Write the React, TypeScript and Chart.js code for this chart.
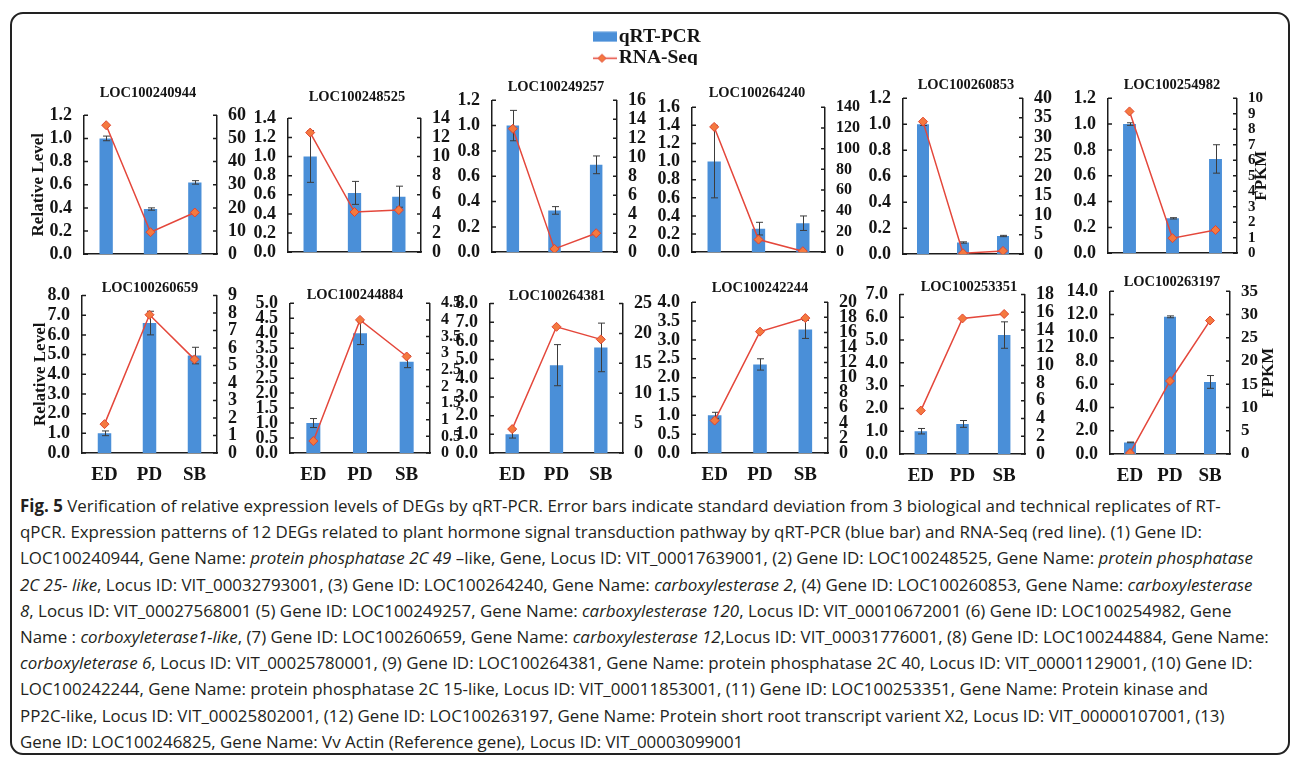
import React, { useEffect, useRef } from 'react';
import { Chart, registerables } from 'chart.js';

Chart.register(...registerables);

// ---------------- DATA ----------------
const STAGES = ['ED', 'PD', 'SB'];
const GENES = [
  'LOC100240944', 'LOC100248525', 'LOC100249257', 'LOC100264240', 'LOC100260853', 'LOC100254982',
  'LOC100260659', 'LOC100244884', 'LOC100264381', 'LOC100242244', 'LOC100253351', 'LOC100263197',
];
// qRT-PCR relative level (bars, left axis)
const QPCR = [
  [1.0, 0.39, 0.62], [1.0, 0.62, 0.58], [1.0, 0.33, 0.69], [1.0, 0.26, 0.32], [1.0, 0.09, 0.14], [1.0, 0.27, 0.73],
  [1.0, 6.6, 4.95], [1.0, 4.0, 3.05], [1.0, 4.7, 5.65], [1.0, 2.35, 3.28], [1.0, 1.32, 5.22], [1.0, 11.8, 6.2],
];
// standard deviation of qRT-PCR (error bars)
const QPCR_SD = [
  [0.02, 0.01, 0.015], [0.27, 0.12, 0.11], [0.12, 0.03, 0.07], [0.4, 0.07, 0.08], [0.01, 0.005, 0.005], [0.01, 0.005, 0.11],
  [0.12, 0.6, 0.42], [0.15, 0.38, 0.2], [0.2, 1.1, 1.3], [0.08, 0.15, 0.24], [0.12, 0.15, 0.58], [0.03, 0.08, 0.55],
];
// RNA-Seq FPKM (line, right axis)
const FPKM = [
  [55.7, 9.5, 18], [12.5, 4.2, 4.4], [13.0, 0.35, 2.0], [121, 12.2, 1], [34, 0.25, 0.85], [9.15, 0.97, 1.5],
  [1.65, 7.9, 5.35], [0.36, 4.0, 2.9], [4.0, 21.1, 19.0], [4.3, 16.1, 17.9], [4.9, 15.3, 15.8], [0.2, 15.7, 28.7],
];
// axis [max, step]
const LEFT_AXIS = [
  [1.2, 0.2], [1.4, 0.2], [1.2, 0.2], [1.6, 0.2], [1.2, 0.2], [1.2, 0.2],
  [8, 1], [5, 0.5], [8, 1], [4, 0.5], [7, 1], [14, 2],
];
const RIGHT_AXIS = [
  [60, 10], [14, 2], [16, 2], [140, 20], [40, 5], [10, 1],
  [9, 1], [4.5, 0.5], [25, 5], [20, 2], [18, 2], [35, 5],
];
const LEFT_TITLE = 'Relative Level';
const RIGHT_TITLE = 'FPKM';
const SERIES = ['qRT-PCR', 'RNA-Seq'];

// ---------------- LAYOUT / STYLE ----------------
const PANEL_BOX = [
  { L: 84, R: 217, T: 115, B: 255, tX: 148, tY: 93, lw: 56 },
  { L: 288, R: 421, T: 118, B: 253, tX: 357, tY: 97, lw: 45 },
  { L: 492, R: 617, T: 100, B: 253, tX: 556, tY: 87, lw: 45 },
  { L: 692, R: 825, T: 107, B: 253, tX: 757, tY: 93, lw: 45 },
  { L: 903, R: 1023, T: 98, B: 255, tX: 966, tY: 85, lw: 45 },
  { L: 1108, R: 1237, T: 98, B: 254, tX: 1172, tY: 85, lw: 45 },
  { L: 82, R: 217, T: 295, B: 453, tX: 150, tY: 288, lw: 52 },
  { L: 290, R: 430, T: 303, B: 453, tX: 355, tY: 295, lw: 45 },
  { L: 490, R: 623, T: 303, B: 453, tX: 557, tY: 297, lw: 45 },
  { L: 692, R: 828, T: 302, B: 453, tX: 760, tY: 288, lw: 45 },
  { L: 900, R: 1025, T: 294, B: 454, tX: 969, tY: 288, lw: 45 },
  { L: 1110, R: 1230, T: 291, B: 454, tX: 1172, tY: 282, lw: 50 },
];
const RIGHT_TICK_SIZE = [18, 18, 18, 16, 18, 15, 18, 16, 18, 18, 18, 17];
const SERIF = "'Liberation Serif', 'Times New Roman', serif";
const TEXT = '#141414';
const AXIS = '#1c1c1c';
const BAR_COLOR = '#4a8fd8';
const LINE_COLOR = '#e4473b';
const MARKER_FILL = '#f4793f';
const MARKER_EDGE = '#e2452f';
const ERR_COLOR = '#3c3c3c';
const TITLE_SIZE = 14.5;
const TICK_SIZE = 18;

function makeErrorBars(sd: number[]) {
  return {
    id: 'errorBars',
    afterDatasetDraw(chart: any, args: any) {
      if (args.index !== 0) return;
      const ys = chart.scales.y;
      const vals = chart.data.datasets[0].data;
      const ctx = chart.ctx;
      ctx.save();
      ctx.strokeStyle = ERR_COLOR;
      ctx.lineWidth = 1;
      args.meta.data.forEach((el: any, k: number) => {
        const v = vals[k];
        const e = sd[k];
        const x = Math.round(el.x) + 0.5;
        const yLo = ys.getPixelForValue(v - e);
        const yHi = ys.getPixelForValue(v + e);
        ctx.beginPath();
        ctx.moveTo(x, yLo);
        ctx.lineTo(x, yHi);
        ctx.moveTo(x - 3.5, yLo);
        ctx.lineTo(x + 3.5, yLo);
        ctx.moveTo(x - 3.5, yHi);
        ctx.lineTo(x + 3.5, yHi);
        ctx.stroke();
      });
      ctx.restore();
    },
  };
}

const innerTicks = {
  id: 'innerTicks',
  afterDraw(chart: any) {
    const { ctx, chartArea } = chart;
    const ys = chart.scales.y;
    const y1 = chart.scales.y1;
    ctx.save();
    ctx.strokeStyle = AXIS;
    ctx.lineWidth = 1.5;
    ctx.beginPath();
    ys.ticks.forEach((t: any) => {
      const p = ys.getPixelForValue(t.value);
      ctx.moveTo(chartArea.left, p);
      ctx.lineTo(chartArea.left + 4, p);
    });
    y1.ticks.forEach((t: any) => {
      const p = y1.getPixelForValue(t.value);
      ctx.moveTo(chartArea.right - 4, p);
      ctx.lineTo(chartArea.right, p);
    });
    ctx.stroke();
    ctx.restore();
  },
};

function makeRightTitle(text: string, offset: number) {
  return {
    id: 'rightTitle',
    afterDraw(chart: any) {
      const { ctx, chartArea } = chart;
      ctx.save();
      ctx.translate(chartArea.right + offset, (chartArea.top + chartArea.bottom) / 2);
      ctx.rotate(-Math.PI / 2);
      ctx.font = `bold 17px ${SERIF}`;
      ctx.fillStyle = TEXT;
      ctx.textAlign = 'center';
      ctx.textBaseline = 'middle';
      ctx.fillText(text, 0, 0);
      ctx.restore();
    },
  };
}

function Panel({ i }: { i: number }) {
  const ref = useRef<HTMLCanvasElement>(null);
  const b = PANEL_BOX[i];
  const row2 = i >= 6;
  const xH = row2 ? 30 : 14;
  const pt = 4;
  const lh = TITLE_SIZE;
  const pb = Math.max(0, b.T - b.tY - lh / 2);
  const top = b.T - (pt + lh + pb);
  const rightW = b.lw + 2 * b.tX - b.L - b.R;
  const left = b.L - b.lw;
  const width = b.lw + (b.R - b.L) + rightW;
  const height = b.B - top + xH;
  const hasLeftTitle = i % 6 === 0;
  const hasRightTitle = i % 6 === 5;

  useEffect(() => {
    const tickFont = { family: SERIF, size: TICK_SIZE, weight: 'bold' as const, lineHeight: 1.2 };
    const plugins: any[] = [makeErrorBars(QPCR_SD[i]), innerTicks];
    if (hasRightTitle) plugins.push(makeRightTitle(RIGHT_TITLE, i === 5 ? 25 : 39));
    const chart = new Chart(ref.current as HTMLCanvasElement, {
      type: 'bar',
      data: {
        labels: STAGES,
        datasets: [
          {
            type: 'bar',
            label: SERIES[0],
            data: QPCR[i],
            yAxisID: 'y',
            backgroundColor: BAR_COLOR,
            barPercentage: 0.3,
            categoryPercentage: 1,
            order: 2,
          } as any,
          {
            type: 'line',
            label: SERIES[1],
            data: FPKM[i],
            yAxisID: 'y1',
            borderColor: LINE_COLOR,
            borderWidth: 1.5,
            tension: 0,
            pointStyle: 'rectRot',
            pointRadius: 4.5,
            pointBackgroundColor: MARKER_FILL,
            pointBorderColor: MARKER_EDGE,
            pointBorderWidth: 1,
            order: 1,
          } as any,
        ],
      },
      options: {
        responsive: false,
        animation: false,
        devicePixelRatio: 1,
        events: [],
        layout: { padding: 0 },
        plugins: {
          legend: { display: false },
          tooltip: { enabled: false },
          title: {
            display: true,
            text: GENES[i],
            color: TEXT,
            font: { family: SERIF, size: TITLE_SIZE, weight: 'bold', lineHeight: 1 },
            padding: { top: pt, bottom: pb },
          },
        },
        scales: {
          x: {
            type: 'category',
            offset: true,
            grid: { display: false },
            border: { display: true, color: AXIS, width: 1.5 },
            ticks: { display: row2, color: TEXT, font: { ...tickFont, size: 19 }, padding: 3, maxRotation: 0, autoSkip: false },
            afterFit: (s: any) => { s.height = xH; },
          },
          y: {
            type: 'linear',
            position: 'left',
            min: 0,
            max: LEFT_AXIS[i][0],
            grid: { display: false },
            border: { display: true, color: AXIS, width: 1.5 },
            ticks: {
              stepSize: LEFT_AXIS[i][1],
              autoSkip: false,
              maxTicksLimit: 50,
              color: TEXT,
              font: tickFont,
              padding: 4,
              callback: (v: any) => Number(v).toFixed(1),
            },
            title: {
              display: hasLeftTitle,
              text: LEFT_TITLE,
              color: TEXT,
              font: { family: SERIF, size: 17, weight: 'bold', lineHeight: 1.2 },
              padding: 0,
            },
            afterFit: (s: any) => { s.width = b.lw; },
          },
          y1: {
            type: 'linear',
            position: 'right',
            min: 0,
            max: RIGHT_AXIS[i][0],
            grid: { display: false },
            border: { display: true, color: AXIS, width: 1.5 },
            ticks: {
              stepSize: RIGHT_AXIS[i][1],
              autoSkip: false,
              maxTicksLimit: 50,
              color: TEXT,
              font: { ...tickFont, size: RIGHT_TICK_SIZE[i] },
              padding: 3,
              callback: (v: any) => String(Math.round(Number(v) * 10) / 10),
            },
            afterFit: (s: any) => { s.width = rightW; },
          },
        },
      } as any,
      plugins,
    });
    return () => chart.destroy();
  }, []);

  return (
    <canvas
      ref={ref}
      width={width}
      height={height}
      style={{ position: 'absolute', left, top, width, height }}
    />
  );
}

function makeLegendImage(kind: 'bar' | 'line') {
  const c = document.createElement('canvas');
  c.width = 30;
  c.height = 11;
  const g = c.getContext('2d') as CanvasRenderingContext2D;
  if (kind === 'bar') {
    g.fillStyle = BAR_COLOR;
    g.fillRect(0, 0.5, 30, 10);
  } else {
    g.strokeStyle = LINE_COLOR;
    g.lineWidth = 1.5;
    g.beginPath();
    g.moveTo(0, 5.5);
    g.lineTo(30, 5.5);
    g.stroke();
    g.fillStyle = MARKER_FILL;
    g.strokeStyle = MARKER_EDGE;
    g.lineWidth = 1;
    g.beginPath();
    g.moveTo(15, 1.5);
    g.lineTo(19, 5.5);
    g.lineTo(15, 9.5);
    g.lineTo(11, 5.5);
    g.closePath();
    g.fill();
    g.stroke();
  }
  return c;
}

function Legend() {
  const ref = useRef<HTMLCanvasElement>(null);
  useEffect(() => {
    const imgs = [makeLegendImage('bar'), makeLegendImage('line')];
    const chart = new Chart(ref.current as HTMLCanvasElement, {
      type: 'bar',
      data: { labels: [], datasets: [] },
      options: {
        responsive: false,
        animation: false,
        devicePixelRatio: 1,
        events: [],
        layout: { padding: 0 },
        scales: { x: { display: false }, y: { display: false } },
        plugins: {
          tooltip: { enabled: false },
          legend: {
            display: true,
            position: 'top',
            align: 'start',
            labels: {
              usePointStyle: true,
              pointStyleWidth: 14,
              padding: 2,
              color: TEXT,
              font: { family: SERIF, size: 19.5, weight: 'bold' },
              generateLabels: () =>
                SERIES.map((s, k) => ({
                  text: s,
                  pointStyle: imgs[k],
                  fillStyle: k === 0 ? BAR_COLOR : MARKER_FILL,
                  strokeStyle: k === 0 ? BAR_COLOR : LINE_COLOR,
                  lineWidth: 0,
                  hidden: false,
                  datasetIndex: k,
                  fontColor: TEXT,
                })),
            },
          },
        },
      } as any,
    });
    return () => chart.destroy();
  }, []);
  return (
    <canvas ref={ref} width={140} height={80} style={{ position: 'absolute', left: 593, top: 25, width: 140, height: 80 }} />
  );
}

const CAPTION_LINES: React.ReactNode[] = [
  <><b>Fig. 5</b> Verification of relative expression levels of DEGs by qRT-PCR. Error bars indicate standard deviation from 3 biological and technical replicates of RT-</>,
  <>qPCR. Expression patterns of 12 DEGs related to plant hormone signal transduction pathway by qRT-PCR (blue bar) and RNA-Seq (red line). (1) Gene ID:</>,
  <>LOC100240944, Gene Name: <i>protein phosphatase 2C 49</i> –like, Gene, Locus ID: VIT_00017639001, (2) Gene ID: LOC100248525, Gene Name: <i>protein phosphatase</i></>,
  <><i>2C 25- like</i>, Locus ID: VIT_00032793001, (3) Gene ID: LOC100264240, Gene Name: <i>carboxylesterase 2</i>, (4) Gene ID: LOC100260853, Gene Name: <i>carboxylesterase</i></>,
  <><i>8</i>, Locus ID: VIT_00027568001 (5) Gene ID: LOC100249257, Gene Name: <i>carboxylesterase 120</i>, Locus ID: VIT_00010672001 (6) Gene ID: LOC100254982, Gene</>,
  <>Name : <i>corboxyleterase1-like</i>, (7) Gene ID: LOC100260659, Gene Name: <i>carboxylesterase 12</i>,Locus ID: VIT_00031776001, (8) Gene ID: LOC100244884, Gene Name:</>,
  <><i>corboxyleterase 6</i>, Locus ID: VIT_00025780001, (9) Gene ID: LOC100264381, Gene Name: protein phosphatase 2C 40, Locus ID: VIT_00001129001, (10) Gene ID:</>,
  <>LOC100242244, Gene Name: protein phosphatase 2C 15-like, Locus ID: VIT_00011853001, (11) Gene ID: LOC100253351, Gene Name: Protein kinase and</>,
  <>PP2C-like, Locus ID: VIT_00025802001, (12) Gene ID: LOC100263197, Gene Name: Protein short root transcript varient X2, Locus ID: VIT_00000107001, (13)</>,
  <>Gene ID: LOC100246825, Gene Name: Vv Actin (Reference gene), Locus ID: VIT_00003099001</>,
];

export default function App() {
  return (
    <div style={{ position: 'absolute', left: 0, top: 0, width: 1292, height: 758, background: '#fff', overflow: 'hidden' }}>
      <div
        style={{
          position: 'absolute', left: 10, top: 12, width: 1280, height: 743,
          border: '2px solid #222', borderRadius: 13, boxSizing: 'border-box',
        }}
      />
      <Legend />
      {PANEL_BOX.map((_, i) => <Panel key={i} i={i} />)}
      <div
        style={{
          position: 'absolute', left: 20, top: 493, fontFamily: "'Open Sans', 'Noto Sans', sans-serif",
          fontSize: 16.9, lineHeight: '26.2px', color: '#231f20', whiteSpace: 'nowrap',
        }}
      >
        {CAPTION_LINES.map((l, k) => <div key={k}>{l}</div>)}
      </div>
    </div>
  );
}
